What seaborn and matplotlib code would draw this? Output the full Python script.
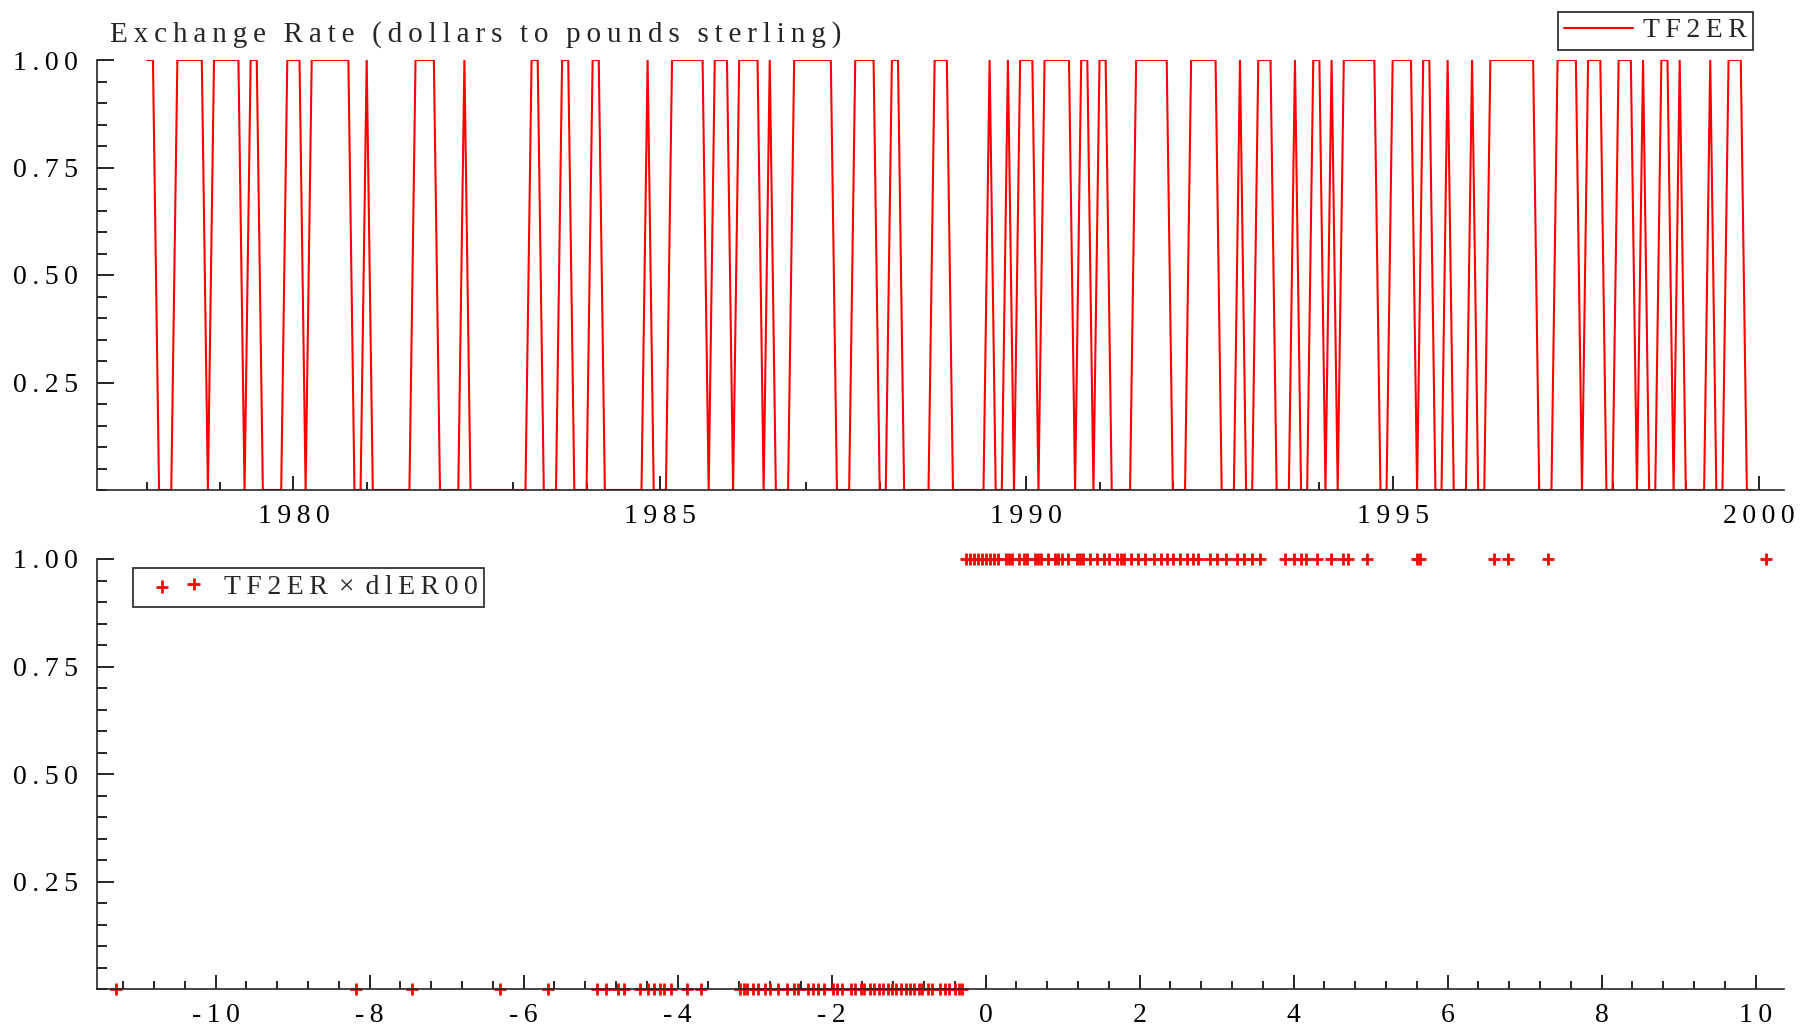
import numpy as np
import pandas as pd
import matplotlib
matplotlib.use("Agg")
import matplotlib.pyplot as plt
import seaborn as sns
from matplotlib.ticker import MultipleLocator, FixedLocator, FuncFormatter
from matplotlib.legend_handler import HandlerPathCollection
from matplotlib.collections import PathCollection

# ---------------- data ----------------
start_year = 1978  # monthly data, 1978(1) .. 1999(12)
tf2er_monthly = [
    1, 1, 0, 0, 0, 1, 1, 1, 1, 1, 0, 1,   # 1978
    1, 1, 1, 1, 0, 1, 1, 0, 0, 0, 0, 1,   # 1979
    1, 1, 0, 1, 1, 1, 1, 1, 1, 1, 0, 0,   # 1980
    1, 0, 0, 0, 0, 0, 0, 0, 1, 1, 1, 1,   # 1981
    0, 0, 0, 0, 1, 0, 0, 0, 0, 0, 0, 0,   # 1982
    0, 0, 0, 1, 1, 0, 0, 0, 1, 1, 0, 0,   # 1983
    0, 1, 1, 0, 0, 0, 0, 0, 0, 0, 1, 0,   # 1984
    0, 0, 1, 1, 1, 1, 1, 1, 0, 1, 1, 1,   # 1985
    0, 1, 1, 1, 1, 0, 1, 0, 0, 0, 1, 1,   # 1986
    1, 1, 1, 1, 1, 0, 0, 0, 1, 1, 1, 1,   # 1987
    0, 0, 1, 1, 0, 0, 0, 0, 0, 1, 1, 1,   # 1988
    0, 0, 0, 0, 0, 0, 1, 0, 0, 1, 0, 1,   # 1989
    1, 1, 0, 1, 1, 1, 1, 1, 0, 1, 1, 0,   # 1990
    1, 1, 0, 0, 0, 0, 1, 1, 1, 1, 1, 1,   # 1991
    0, 0, 0, 1, 1, 1, 1, 1, 0, 0, 0, 1,   # 1992
    0, 0, 1, 1, 1, 0, 0, 0, 1, 0, 0, 1,   # 1993
    1, 0, 1, 0, 1, 1, 1, 1, 1, 1, 0, 0,   # 1994
    1, 1, 1, 1, 0, 1, 1, 0, 0, 1, 0, 0,   # 1995
    0, 1, 0, 0, 1, 1, 1, 1, 1, 1, 1, 1,   # 1996
    0, 0, 0, 1, 1, 1, 1, 0, 1, 1, 1, 0,   # 1997
    0, 1, 1, 1, 0, 1, 0, 0, 1, 1, 0, 1,   # 1998
    0, 0, 0, 0, 1, 0, 0, 1, 1, 1, 0, 0,   # 1999
]

# dlER00 values where TF2ER = 0
dler00_tf0 = [-11.29, -8.17, -7.45, -6.30, -5.68,
              -5.04, -4.93, -4.77, -4.69, -4.49, -4.38, -4.30, -4.23, -4.17,
              -4.08, -3.88, -3.70,
              -3.19, -3.14, -3.10, -3.02, -2.96, -2.86, -2.80, -2.70, -2.58,
              -2.49, -2.43, -2.30, -2.24, -2.17, -2.10, -1.98, -1.93, -1.86,
              -1.75, -1.70, -1.62, -1.58, -1.50, -1.45, -1.38, -1.33, -1.27,
              -1.22, -1.16, -1.10, -1.03, -0.98, -0.93, -0.87, -0.82, -0.75,
              -0.70, -0.59, -0.53, -0.48, -0.40, -0.35, -0.30]
# dlER00 values where TF2ER = 1
dler00_tf1 = [-0.25, -0.20, -0.15, -0.10, -0.05, 0.01, 0.06, 0.11, 0.16, 0.26,
              0.30, 0.35, 0.44, 0.50, 0.54, 0.64, 0.68, 0.72, 0.81, 0.90,
              0.94, 0.99, 1.07, 1.19, 1.23, 1.27, 1.36, 1.45, 1.54, 1.60,
              1.71, 1.76, 1.80, 1.89, 1.98, 2.07, 2.19, 2.28, 2.36, 2.44,
              2.53, 2.62, 2.70, 2.76, 2.91, 3.01, 3.12, 3.26, 3.36, 3.46,
              3.56, 3.89, 4.00, 4.10, 4.16, 4.30, 4.49, 4.64, 4.71, 4.95,
              5.60, 5.64, 6.61, 6.78, 7.31, 10.13]

title = "Exchange Rate (dollars to pounds sterling)"
top_label = "TF2ER"
bottom_label = "TF2ER \u00d7 dlER00"

# ---------------- frames ----------------
months = np.arange(len(tf2er_monthly))
df_top = pd.DataFrame({"year": start_year + months / 12.0, "TF2ER": tf2er_monthly})
df_bot = pd.DataFrame({
    "dlER00": dler00_tf0 + dler00_tf1,
    "TF2ER": [0] * len(dler00_tf0) + [1] * len(dler00_tf1),
})

# ---------------- style ----------------
sns.set_style("ticks")
FAM = ["Liberation Serif", "DejaVu Serif"]
plt.rcParams["font.family"] = FAM
plt.rcParams["axes.linewidth"] = 1.2
plt.rcParams["axes.unicode_minus"] = False

THIN = "\u2009"


def spaced(s, word_gap=2):
    """Letter-spaced text: thin space between letters, wider gap for words."""
    out = ""
    for i, ch in enumerate(s):
        if ch == " ":
            out += THIN * word_gap
            continue
        if i > 0 and s[i - 1] != " ":
            out += THIN
        out += ch
    return out


W, H, DPI = 1807, 1031, 100
fig = plt.figure(figsize=(W / DPI, H / DPI), dpi=DPI)
ax1 = fig.add_axes([97 / W, 1 - 490 / H, (1784 - 97) / W, (490 - 60) / H])
ax2 = fig.add_axes([97 / W, 1 - 989 / H, (1784 - 97) / W, (989 - 559) / H])

red = "#ff0000"
fs = 20

# top: time series
sns.lineplot(data=df_top, x="year", y="TF2ER", ax=ax1, color=red, linewidth=1.5,
             label=spaced(top_label), legend=False)
ax1.set_xlim(1977.32, 2000.34)
ax1.set_ylim(0, 1.0)
ax1.xaxis.set_major_locator(MultipleLocator(5))
ax1.xaxis.set_minor_locator(MultipleLocator(1))
ax1.xaxis.set_major_formatter(FuncFormatter(lambda v, p: spaced(f"{int(round(v))}")))
ax1.set_xlabel("")
ax1.set_ylabel("")
leg1 = ax1.legend(loc="upper right", bbox_to_anchor=(0.9815, 1.112), frameon=True,
                  fancybox=False, fontsize=fs, handlelength=2.5,
                  borderpad=0.22, handletextpad=0.35, borderaxespad=0)
fig.text(110 / W, 1 - 34.5 / H, spaced(title, word_gap=3), fontsize=fs + 1,
         va="center", ha="left")

# bottom: scatter
sns.scatterplot(data=df_bot, x="dlER00", y="TF2ER", ax=ax2, marker="+", color=red,
                s=80, linewidth=2.0, label=spaced(bottom_label), legend=False)
for coll in ax2.collections:
    coll.set_clip_on(False)
ax2.set_xlim(-11.54, 10.37)
ax2.set_ylim(0, 1.0)
ax2.xaxis.set_major_locator(MultipleLocator(2))
ax2.xaxis.set_minor_locator(MultipleLocator(0.4))
ax2.xaxis.set_major_formatter(FuncFormatter(lambda v, p: spaced(f"{int(round(v))}")))
ax2.set_xlabel("")
ax2.set_ylabel("")
leg2 = ax2.legend(loc="upper left", bbox_to_anchor=(0.0215, 0.98), frameon=True,
                  fancybox=False, fontsize=fs, scatterpoints=2, handlelength=2.7,
                  borderpad=0.25, handletextpad=0.3, borderaxespad=0,
                  handler_map={PathCollection: HandlerPathCollection(marker_pad=0.78)})

for leg in (leg1, leg2):
    leg.get_frame().set_edgecolor("black")
    leg.get_frame().set_linewidth(1.3)

for ax in (ax1, ax2):
    ax.yaxis.set_major_locator(FixedLocator([0.25, 0.5, 0.75, 1.0]))
    ax.yaxis.set_minor_locator(MultipleLocator(0.05))
    ax.yaxis.set_major_formatter(FuncFormatter(lambda v, p: spaced(f"{v:.2f}")))
    sns.despine(ax=ax, top=True, right=True)
    ax.tick_params(axis="both", which="both", direction="in", colors="black",
                   labelsize=fs, width=1.2)
    ax.tick_params(axis="y", which="major", length=12, pad=14)
    ax.tick_params(axis="y", which="minor", length=7)
    ax.tick_params(axis="x", which="major", length=10, pad=10)
    ax.tick_params(axis="x", which="minor", length=6)
    ax.patch.set_alpha(0)

fig.savefig("out.png", dpi=DPI, facecolor="white")
